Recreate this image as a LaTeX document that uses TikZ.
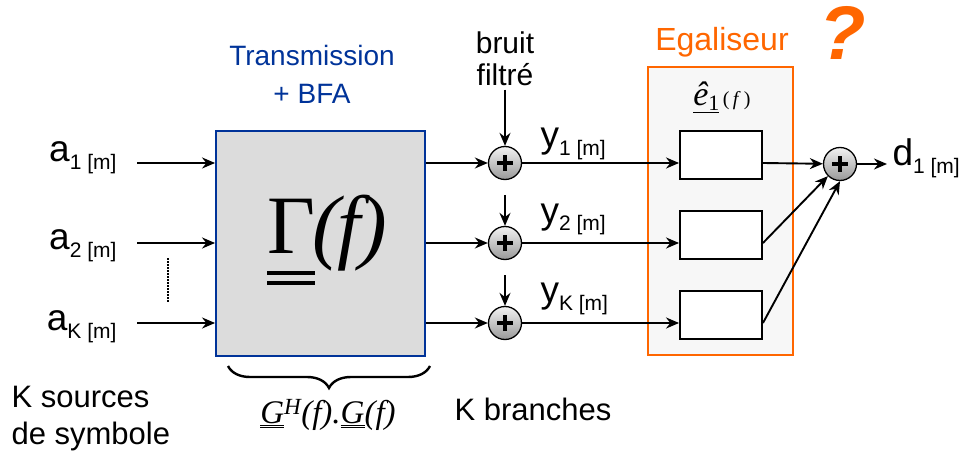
\documentclass[tikz,border=0pt]{standalone}
\usepackage{fontspec}
\setmainfont{Liberation Sans}
\newfontfamily\timesfont{Liberation Serif}
\usetikzlibrary{arrows.meta, decorations.pathreplacing}
\definecolor{bfablue}{RGB}{0,51,153}
\definecolor{egalorange}{RGB}{255,102,0}
\definecolor{boxgray}{RGB}{220,220,220}
\definecolor{egalfill}{RGB}{247,247,247}
\newcommand{\sigsub}[2]{{\fontsize{37}{40}\selectfont #1}{\fontsize{21}{24}\selectfont\raisebox{-8pt}{#2}}}

\begin{document}
\begin{tikzpicture}[x=1pt, y=-1pt,
    sig/.style={-{Stealth[length=13pt,width=11pt]}, line width=1.9pt},
    sumnode/.style={circle, draw, line width=1.3pt, minimum size=33pt, inner sep=0pt,
        top color=gray!10, bottom color=gray!80,
        path picture={\draw[line width=3.2pt]
            ([xshift=-8pt]path picture bounding box.center) -- ([xshift=8pt]path picture bounding box.center)
            ([yshift=-8pt]path picture bounding box.center) -- ([yshift=8pt]path picture bounding box.center);}},
    eqbox/.style={draw, fill=white, line width=1.9pt, minimum width=82pt, minimum height=48pt, inner sep=0pt},
    lbl/.style={font=\fontsize{30}{37}\selectfont, align=center}]
    \useasboundingbox ({0}, {0}) rectangle ({969}, {457});

    % Channel block
    \node[draw=bfablue, fill=boxgray, line width=1.9pt, minimum width=209pt, minimum height=225pt] (chan) at ({320.5}, {243.5}) {};
    \node[inner sep=0pt, anchor=base west, font=\fontsize{83}{85}\selectfont\timesfont] (gam) at ({267}, {253}) {Γ};
    \node[inner sep=0pt, anchor=base west, font=\fontsize{83}{85}\selectfont\timesfont\itshape] (ff) at ([xshift=-3pt]gam.base east) {(\kern-3pt f\kern-1pt)};
    \draw[line width=3.2pt] ([yshift=-20pt]gam.base west) -- ([yshift=-20pt]gam.base east);
    \draw[line width=3.2pt] ([yshift=-30pt]gam.base west) -- ([yshift=-30pt]gam.base east);
    \node[lbl, text=bfablue, font=\fontsize{28}{38}\selectfont] (tx) at ({312}, {74}) {Transmission\\+ BFA};
    \draw[decorate, decoration={brace, mirror, amplitude=22pt}, line width=2.4pt] ({228}, {366}) -- ({430}, {366});
    \node (gg) at ({328}, {415}) {\fontsize{33}{35}\selectfont\timesfont\itshape\underline{\underline{G}}\textsuperscript{H}(f).\underline{\underline{G}}(f)};

    % Sources
    \node[anchor=base east] (a1) at ({120}, {162}) {\sigsub{a}{1 [m]}};
    \node[anchor=base east] (a2) at ({120}, {249}) {\sigsub{a}{2 [m]}};
    \node[anchor=base east] (aK) at ({120}, {330}) {\sigsub{a}{K [m]}};
    \coordinate (in1) at ({137}, {163});
    \coordinate (in2) at ({137}, {243});
    \coordinate (inK) at ({137}, {323});
    \draw[sig] (in1) -- (in1 -| chan.west);
    \draw[sig] (in2) -- (in2 -| chan.west);
    \draw[sig] (inK) -- (inK -| chan.west);
    \draw[line width=1.5pt, dash pattern=on 1.5pt off 1.5pt] ({168}, {258}) -- ({168}, {302});
    \node[lbl, align=left, anchor=west, font=\fontsize{31}{37}\selectfont] (src) at ({8}, {419}) {K sources\\de symbole};

    % Noise and branches
    \node[sumnode] (s1) at ({505}, {163}) {};
    \node[sumnode] (s2) at ({505}, {243}) {};
    \node[sumnode] (sK) at ({505}, {323}) {};
    \node[lbl, font=\fontsize{30}{32}\selectfont] (noise) at ({505}, {59}) {bruit\\filtré};
    \coordinate (n2) at ({505}, {195});
    \coordinate (nK) at ({505}, {275});
    \draw[sig] (noise) -- (s1);
    \draw[sig] (n2) -- (s2);
    \draw[sig] (nK) -- (sK);
    \draw[sig] (s1 -| chan.east) -- (s1);
    \draw[sig] (s2 -| chan.east) -- (s2);
    \draw[sig] (sK -| chan.east) -- (sK);
    \node[anchor=base west] (y1) at ({537}, {148}) {\sigsub{y}{1 [m]}};
    \node[anchor=base west] (y2) at ({537}, {223}) {\sigsub{y}{2 [m]}};
    \node[anchor=base west] (yK) at ({537}, {302}) {\sigsub{y}{K [m]}};
    \node[lbl, anchor=base west, font=\fontsize{31}{37}\selectfont] (kb) at ({451}, {420}) {K branches};

    % Equalizer
    \node[draw=egalorange, fill=egalfill, line width=1.9pt, minimum width=145pt, minimum height=288pt] (egal) at ({720.5}, {211}) {};
    \node[lbl, text=egalorange, font=\fontsize{32}{37}\selectfont] (egtitle) at ({722}, {42}) {Egaliseur};
    \node[text=egalorange, font=\fontsize{76}{76}\selectfont\bfseries\itshape] (quest) at ({843}, {33}) {?};
    \node (ehat) at ({722}, {97}) {\timesfont\fontsize{34}{36}\selectfont\underline{\textit{ê}{\fontsize{22}{24}\selectfont\raisebox{-5pt}{1}}}{\fontsize{20}{24}\selectfont\,(\,\textit{f}\,)}};
    \node[eqbox] (e1) at ({721}, {155}) {};
    \node[eqbox] (e2) at ({721}, {235}) {};
    \node[eqbox] (eK) at ({721}, {315}) {};
    \draw[sig] (s1) -- (s1 -| e1.west);
    \draw[sig] (s2) -- (s2 -| e2.west);
    \draw[sig] (sK) -- (sK -| eK.west);

    % Combiner
    \node[sumnode] (dsum) at ({840}, {164}) {};
    \draw[sig] (s1 -| e1.east) -- (dsum);
    \draw[sig] (s2 -| e2.east) -- (dsum.south west);
    \draw[sig] (sK -| eK.east) -- (dsum.south);
    \coordinate (out) at ({887}, {164});
    \draw[sig] (dsum) -- (out);
    \node[anchor=base west] (d1) at ({889}, {166}) {\sigsub{d}{1 [m]}};
\end{tikzpicture}
\end{document}
